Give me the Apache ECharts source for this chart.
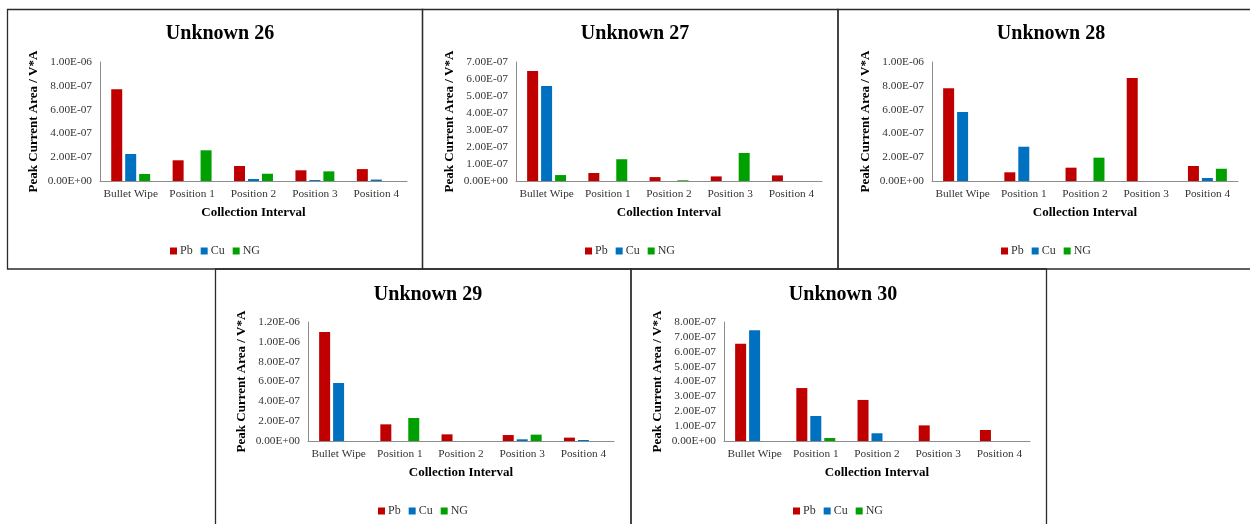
<!DOCTYPE html>
<html>
<head>
<meta charset="utf-8">
<title>Peak Current Area by Collection Interval — Unknowns 26–30</title>
<script src="https://cdn.jsdelivr.net/npm/echarts@6/dist/echarts.min.js"></script>
<style>
  html, body { margin: 0; padding: 0; background: #ffffff; }
  #chart { width: 1250px; height: 524px; }
</style>
</head>
<body>
<div id="chart"></div>
<script>
// Collection intervals (x categories)
const categories = ['Bullet Wipe', 'Position 1', 'Position 2', 'Position 3', 'Position 4'];
const seriesNames = ['Pb', 'Cu', 'NG'];
const panelTitles = ['Unknown 26', 'Unknown 27', 'Unknown 28', 'Unknown 29', 'Unknown 30'];

// Peak current area (V*A) per sample and element
const u26Pb = [7.7e-7, 1.74e-7, 1.26e-7, 9.0e-8, 1.0e-7];
const u26Cu = [2.27e-7, 0, 1.7e-8, 8e-9, 1.2e-8];
const u26NG = [5.9e-8, 2.58e-7, 6.1e-8, 8.1e-8, 0];

const u27Pb = [6.47e-7, 4.7e-8, 2.3e-8, 2.7e-8, 3.3e-8];
const u27Cu = [5.59e-7, 0, 0, 0, 0];
const u27NG = [3.5e-8, 1.28e-7, 4e-9, 1.65e-7, 0];

const u28Pb = [7.79e-7, 7.3e-8, 1.12e-7, 8.66e-7, 1.26e-7];
const u28Cu = [5.8e-7, 2.88e-7, 0, 0, 2.5e-8];
const u28NG = [0, 0, 1.96e-7, 0, 1.03e-7];

const u29Pb = [1.1e-6, 1.68e-7, 6.7e-8, 6.0e-8, 3.4e-8];
const u29Cu = [5.85e-7, 0, 0, 1.7e-8, 1.0e-8];
const u29NG = [0, 2.32e-7, 0, 6.4e-8, 0];

const u30Pb = [6.54e-7, 3.56e-7, 2.76e-7, 1.05e-7, 7.4e-8];
const u30Cu = [7.44e-7, 1.68e-7, 5.2e-8, 0, 0];
const u30NG = [0, 2.0e-8, 0, 0, 0];

// Y axis ranges per panel
const axisMax = [1.0e-6, 7.0e-7, 1.0e-6, 1.2e-6, 8.0e-7];
const axisStep = [2.0e-7, 1.0e-7, 2.0e-7, 2.0e-7, 1.0e-7];

const panelData = [
  [u26Pb, u26Cu, u26NG],
  [u27Pb, u27Cu, u27NG],
  [u28Pb, u28Cu, u28NG],
  [u29Pb, u29Cu, u29NG],
  [u30Pb, u30Cu, u30NG]
];

const colors = ['#C00000', '#0070C0', '#00A000'];
const serif = '"Liberation Serif", "Times New Roman", "DejaVu Serif", serif';

// Panel geometry: frame box, plot grid, centre x, title and legend tops
const panels = [
  { box: [7.5, 9.5, 415, 259.5], grid: { left: 100, top: 62, width: 307, height: 119 }, cx: 215, titleY: 19, legendY: 240 },
  { box: [422.5, 9.5, 415.5, 259.5], grid: { left: 516, top: 62, width: 306, height: 119 }, cx: 630, titleY: 19, legendY: 240 },
  { box: [838, 9.5, 413, 259.5], grid: { left: 932, top: 62, width: 306, height: 119 }, cx: 1046, titleY: 19, legendY: 240 },
  { box: [215.5, 269, 415.5, 262], grid: { left: 308, top: 322, width: 306, height: 119 }, cx: 423, titleY: 280, legendY: 500 },
  { box: [631, 269, 415.5, 262], grid: { left: 724, top: 322, width: 306, height: 119 }, cx: 838, titleY: 280, legendY: 500 }
];

// Excel-style scientific labels, e.g. 1.00E-06, 0.00E+00
function sci(v) {
  if (Math.abs(v) < 1e-15) return '0.00E+00';
  const parts = v.toExponential(2).split('e');
  const exp = parseInt(parts[1], 10);
  return parts[0] + 'E' + (exp < 0 ? '-' : '+') + String(Math.abs(exp)).padStart(2, '0');
}

const option = {
  backgroundColor: '#ffffff',
  animation: false,
  color: colors,
  title: [],
  legend: [],
  grid: [],
  xAxis: [],
  yAxis: [],
  series: [],
  graphic: []
};

panels.forEach((p, i) => {
  option.graphic.push({
    type: 'rect',
    silent: true,
    shape: { x: p.box[0], y: p.box[1], width: p.box[2], height: p.box[3] },
    style: { fill: 'none', stroke: '#2b2b2b', lineWidth: 1.3 }
  });

  option.title.push({
    text: panelTitles[i],
    left: p.cx,
    top: p.titleY,
    textAlign: 'center',
    textStyle: { fontFamily: serif, fontWeight: 'bold', fontSize: 20, color: '#000' }
  });

  option.legend.push({
    data: seriesNames,
    left: p.cx,
    top: p.legendY,
    orient: 'horizontal',
    icon: 'rect',
    itemWidth: 7,
    itemHeight: 7,
    itemGap: 8,
    selectedMode: false,
    textStyle: { fontFamily: serif, fontSize: 12, color: '#333', padding: [0, 0, 0, -2] },
    align: 'left'
  });

  option.grid.push(Object.assign({ containLabel: false }, p.grid));

  option.xAxis.push({
    type: 'category',
    gridIndex: i,
    data: categories,
    name: 'Collection Interval',
    nameLocation: 'middle',
    nameGap: 25,
    nameTextStyle: { fontFamily: serif, fontWeight: 'bold', fontSize: 13, color: '#000' },
    axisLine: { show: true, lineStyle: { color: '#8c8c8c', width: 1 } },
    axisTick: { show: false },
    axisLabel: { fontFamily: serif, fontSize: 11.3, color: '#333', margin: 8, interval: 0 },
    splitLine: { show: false }
  });

  option.yAxis.push({
    type: 'value',
    gridIndex: i,
    min: 0,
    max: axisMax[i],
    interval: axisStep[i],
    name: 'Peak Current Area / V*A',
    nameLocation: 'middle',
    nameRotate: 90,
    nameGap: 60,
    nameTextStyle: { fontFamily: serif, fontWeight: 'bold', fontSize: 13, color: '#000' },
    axisLine: { show: true, lineStyle: { color: '#8c8c8c', width: 1 } },
    axisTick: { show: false },
    axisLabel: { fontFamily: serif, fontSize: 11.3, color: '#333', margin: 8, formatter: sci },
    splitLine: { show: false }
  });

  panelData[i].forEach((values, k) => {
    option.series.push({
      name: seriesNames[k],
      type: 'bar',
      xAxisIndex: i,
      yAxisIndex: i,
      data: values,
      barWidth: 11,
      barGap: '27%',
      itemStyle: { color: colors[k] }
    });
  });
});

const chart = echarts.init(document.getElementById('chart'), null, { renderer: 'canvas' });
chart.setOption(option);

// Centre each legend block on its panel once its width is known
const legendWidths = option.legend.map((lg, i) => {
  const view = chart.getViewOfComponentModel(chart.getModel().getComponent('legend', i));
  const rect = view && view.group ? view.group.getBoundingRect() : null;
  return rect ? rect.width : 90;
});
chart.setOption({
  legend: option.legend.map((lg, i) => ({ left: panels[i].cx - legendWidths[i] / 2 }))
});
</script>
</body>
</html>
